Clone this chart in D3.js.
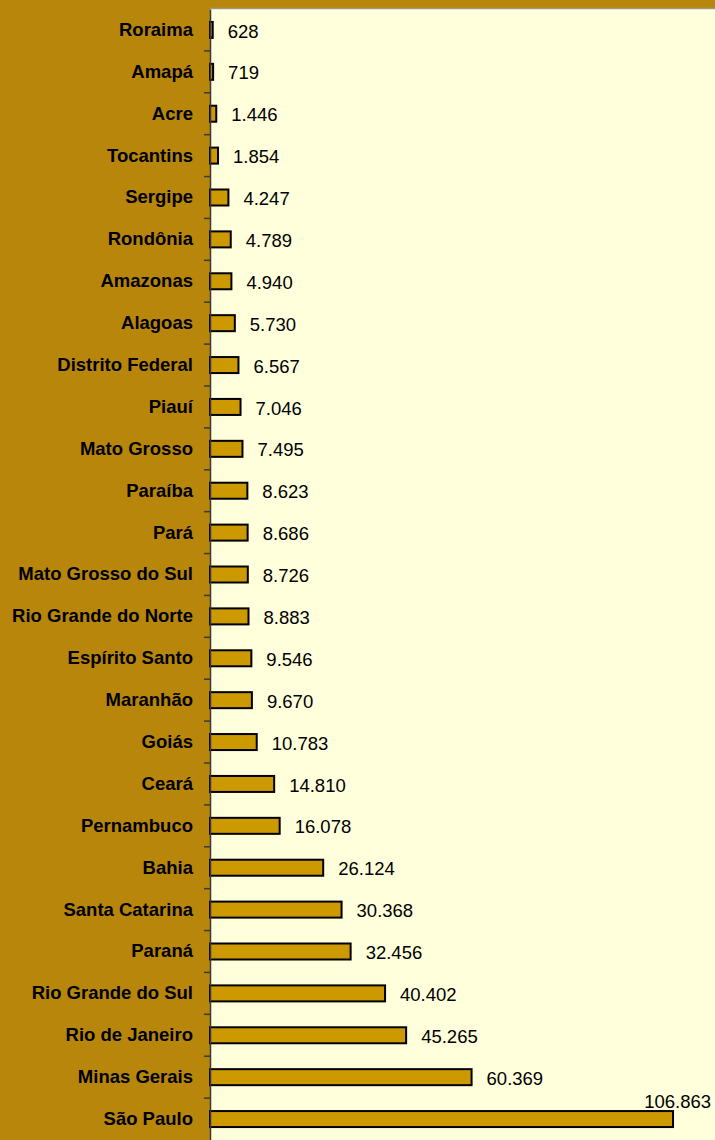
<!DOCTYPE html>
<html>
<head>
<meta charset="utf-8">
<script src="https://cdn.jsdelivr.net/npm/d3@7"></script>
<style>
  html, body { margin: 0; padding: 0; background: #B8860B; }
  svg { display: block; }
  text { font-family: "Liberation Sans", Arial, sans-serif; }
</style>
</head>
<body>
<svg id="chart" width="715" height="1140"></svg>
<script>
// Estados, de cima para baixo
const states = ["Roraima", "Amapá", "Acre", "Tocantins", "Sergipe", "Rondônia", "Amazonas",
  "Alagoas", "Distrito Federal", "Piauí", "Mato Grosso", "Paraíba", "Pará",
  "Mato Grosso do Sul", "Rio Grande do Norte", "Espírito Santo", "Maranhão", "Goiás",
  "Ceará", "Pernambuco", "Bahia", "Santa Catarina", "Paraná", "Rio Grande do Sul",
  "Rio de Janeiro", "Minas Gerais", "São Paulo"];
const values = [628, 719, 1446, 1854, 4247, 4789, 4940, 5730, 6567, 7046, 7495, 8623, 8686,
  8726, 8883, 9546, 9670, 10783, 14810, 16078, 26124, 30368, 32456, 40402, 45265, 60369, 106863];

const plot = { left: 210, top: 9, right: 715, bottom: 1140 };
const fontSize = 18.5;

const svg = d3.select("#chart");

const x = d3.scaleLinear().domain([0, 116550]).range([plot.left, plot.right]);
const y = d3.scaleBand().domain(states).range([plot.top, plot.bottom]);

const fmt = v => d3.format(",")(v).replace(/,/g, ".");

// área do gráfico
svg.append("rect")
  .attr("x", plot.left).attr("y", plot.top)
  .attr("width", plot.right - plot.left).attr("height", plot.bottom - plot.top)
  .attr("fill", "#FFFFDC");
svg.append("line")
  .attr("x1", plot.left).attr("x2", plot.right)
  .attr("y1", plot.top - 0.5).attr("y2", plot.top - 0.5)
  .attr("stroke", "#9a9a8a").attr("stroke-width", 1.5);

// barras
const barH = 16;
svg.append("g").selectAll("rect")
  .data(states)
  .join("rect")
  .attr("x", x(0))
  .attr("y", (d) => y(d) + y.bandwidth() / 2 - barH / 2)
  .attr("width", (d, i) => x(values[i]) - x(0))
  .attr("height", barH)
  .attr("fill", "#CC9900")
  .attr("stroke", "#000")
  .attr("stroke-width", 2);

// rótulos de valor (o último fica acima da barra, alinhado à direita)
const last = states.length - 1;
svg.append("g").selectAll("text")
  .data(states)
  .join("text")
  .attr("x", (d, i) => i === last ? 711 : x(values[i]) + 15)
  .attr("y", (d, i) => y(d) + y.bandwidth() / 2 + 1 - (i === last ? 19 : 0))
  .attr("dy", "0.36em")
  .attr("text-anchor", (d, i) => i === last ? "end" : "start")
  .attr("font-size", fontSize)
  .attr("fill", "#000")
  .text((d, i) => fmt(values[i]));

// eixo das categorias
const axis = d3.axisLeft(y).tickSize(0).tickPadding(17);
const gAxis = svg.append("g")
  .attr("transform", `translate(${plot.left},0)`)
  .call(axis);
gAxis.select(".domain").attr("stroke", "#3a3a3a").attr("stroke-width", 1.5);
gAxis.selectAll("text")
  .attr("font-size", fontSize)
  .attr("font-weight", "bold")
  .attr("fill", "#000");

// marcas entre categorias
svg.append("g").selectAll("line")
  .data(states.slice(1))
  .join("line")
  .attr("x1", plot.left - 6).attr("x2", plot.left)
  .attr("y1", d => y(d)).attr("y2", d => y(d))
  .attr("stroke", "#3a3a3a").attr("stroke-width", 1.5);
</script>
</body>
</html>
